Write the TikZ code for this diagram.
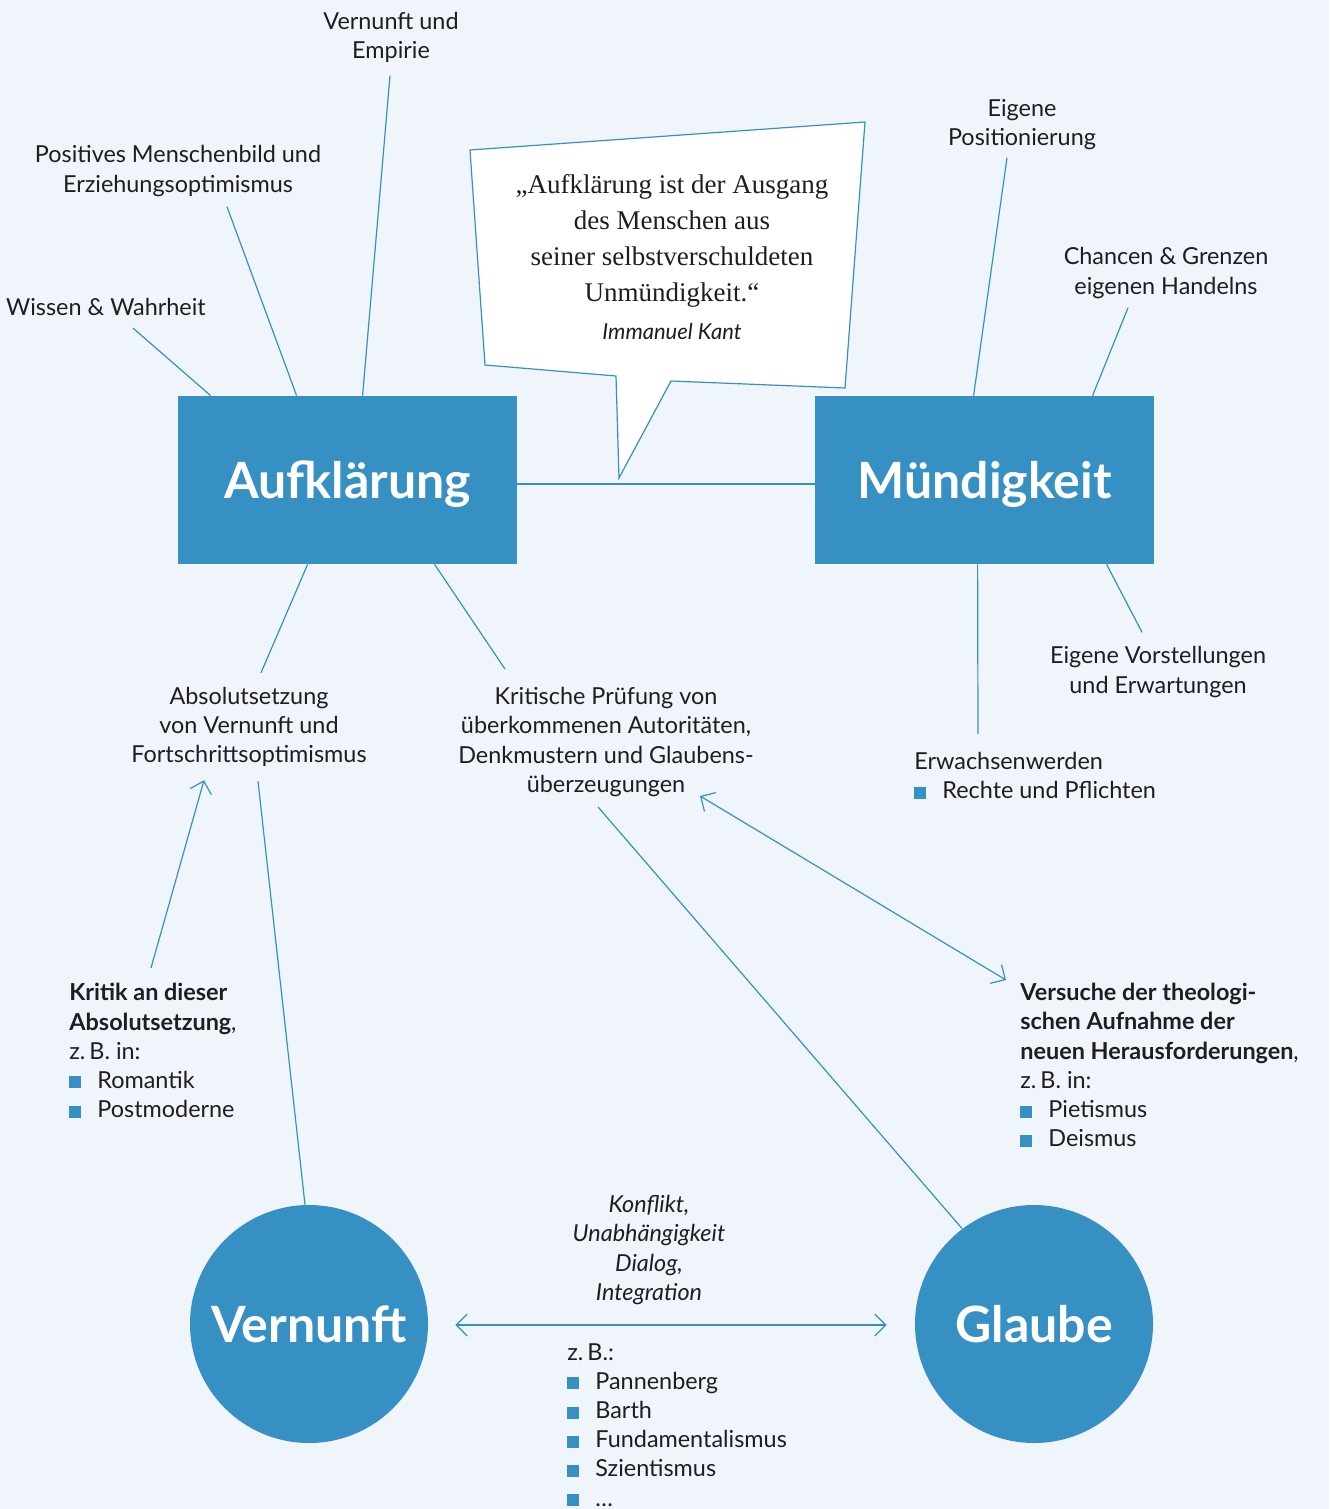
\documentclass[tikz,border=0pt]{standalone}
\usepackage{fontspec}
\setmainfont{Lato}
\newfontfamily\quotefont{Liberation Serif}
\usetikzlibrary{calc,arrows.meta}
\definecolor{kblue}{RGB}{54,144,196}
\definecolor{kbg}{RGB}{239,245,251}
\definecolor{ktext}{RGB}{30,30,30}
\newcommand{\sq}{\textcolor{kblue}{\rule{6pt}{6pt}}\hspace{8pt}}

\begin{document}
\begin{tikzpicture}[x=0.5pt,y=-0.5pt,
  lbl/.style={font=\fontsize{11.7}{14.6}\selectfont,align=center,inner sep=0pt,text=ktext},
  lst/.style={lbl,align=left,anchor=north west},
  bigbox/.style={fill=kblue,minimum width=169.5pt,minimum height=84pt,inner sep=0pt,text depth=0pt,text=white,font=\fontsize{25}{30}\selectfont\bfseries},
  bigcirc/.style={circle,fill=kblue,minimum size=119pt,inner sep=0pt,text=white,font=\fontsize{25}{30}\selectfont\bfseries},
  link/.style={draw=kblue,line width=0.6pt},
  tip/.style={link,{Straight Barb[length=5.5pt,width=11pt]}-{Straight Barb[length=5.5pt,width=11pt]}}
]
\fill[kbg] (0,0) rectangle (1329,1509);
\useasboundingbox (0,0) rectangle (1329,1509);

% main boxes and circles
\node[bigbox] (auf) at (347.5,480) {Aufklärung};
\node[bigbox] (mund) at (984.5,480) {Mündigkeit};
\node[bigcirc] (vern) at (309,1324) {Vernunft};
\node[bigcirc] (glaube) at (1034,1324) {Glaube};
\draw[link,line width=1pt] ($(auf.east)+(0,4)$) -- ($(mund.west)+(0,4)$);

% speech bubble
\draw[link,fill=white] (470,150) -- (865,122) -- (845,388) -- (671,381) -- (619,478) -- (616,376) -- (485,365) -- cycle;
\node[lbl,font=\quotefont\fontsize{13.5}{18}\selectfont] (zitat) at (672,241) {„Aufklärung ist der Ausgang\\des Menschen aus\\seiner selbstverschuldeten\\Unmündigkeit.“};
\node[lbl,font=\fontsize{11}{13}\selectfont\itshape] (kant) at (672,331) {Immanuel Kant};

% labels round Aufklaerung
\node[lbl] (emp) at (391,37) {Vernunft und\\Empirie};
\node[lbl] (pos) at (178,171) {Positives Menschenbild und\\Erziehungsoptimismus};
\node[lbl] (wissen) at (106,307) {Wissen \& Wahrheit};
\node[lbl] (abs) at (249,727) {Absolutsetzung\\von Vernunft und\\Fortschrittsoptimismus};
\node[lbl] (krit) at (606,742) {Kritische Prüfung von\\überkommenen Autoritäten,\\Denkmustern und Glaubens-\\überzeugungen};

% labels round Muendigkeit
\node[lbl] (posit) at (1022,125) {Eigene\\Positionierung};
\node[lbl] (chan) at (1166,273) {Chancen \& Grenzen\\eigenen Handelns};
\node[lbl] (vorst) at (1158,672) {Eigene Vorstellungen\\und Erwartungen};
\node[lst] (erw) at (914,752) {Erwachsenwerden\\\sq Rechte und Pflichten};

% lists
\node[lst] (kritik) at (69,983) {{\bfseries Kritik an dieser}\\{\bfseries Absolutsetzung},\\z.\,B. in:\\\sq Romantik\\\sq Postmoderne};
\node[lst] (vers) at (1020,983) {{\bfseries Versuche der theologi-}\\{\bfseries schen Aufnahme der}\\{\bfseries neuen Herausforderungen},\\z.\,B. in:\\\sq Pietismus\\\sq Deismus};
\node[lbl,font=\fontsize{11.7}{14.6}\selectfont\itshape] (modell) at (649,1250) {Konflikt,\\Unabhängigkeit\\Dialog,\\Integration};
\node[lst] (bsp) at (567,1343) {z.\,B.:\\\sq Pannenberg\\\sq Barth\\\sq Fundamentalismus\\\sq Szientismus\\\sq …};

% connectors
\draw[link] ($(emp.south)+(-1,13)$) -- ($(auf.north west)+(185,0)$);
\draw[link] ($(pos.south)+(49,10)$) -- ($(auf.north west)+(119,0)$);
\draw[link] ($(wissen.south)+(27,12)$) -- ($(auf.north west)+(33,0)$);
\draw[link] ($(auf.south west)+(130,0)$) -- ($(abs.north)+(12,-14)$);
\draw[link] ($(auf.south west)+(257,0)$) -- ($(krit.north)+(-101,-18)$);
\draw[link] ($(posit.south)+(-15,7)$) -- ($(mund.north west)+(159,0)$);
\draw[link] ($(chan.south)+(-38,9)$) -- ($(mund.north west)+(278,0)$);
\draw[link] ($(mund.south west)+(292,0)$) -- ($(vorst.north)+(-16,-14)$);
\draw[link] ($(mund.south west)+(163,0)$) -- ($(erw.north west)+(64,-18)$);
\draw[link] ($(vern.north)+(-4,0)$) -- ($(abs.south)+(9,14)$);
\draw[link,-{Straight Barb[length=5.5pt,width=11pt]}] ($(kritik.north west)+(82,-15)$) -- ($(abs.south)+(-45,13)$);
\draw[link] (glaube.127) -- ($(krit.south)+(-8,10)$);
\draw[tip] ($(krit.south)+(94,-1)$) -- ($(vers.north west)+(-14,-3)$);
\draw[tip] ($(vern.east)+(27,1)$) -- ($(glaube.west)+(-28,1)$);
\end{tikzpicture}
\end{document}
